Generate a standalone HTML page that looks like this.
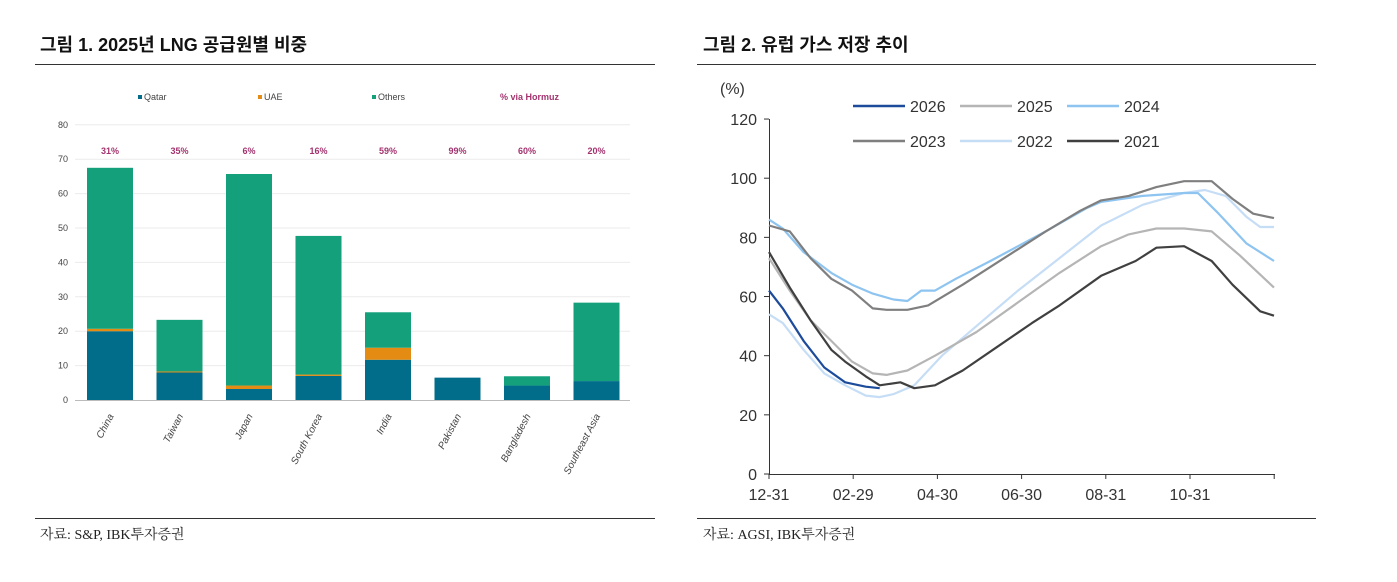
<!DOCTYPE html>
<html><head><meta charset="utf-8">
<style>
body{margin:0;background:#fff;width:1397px;height:582px;overflow:hidden}
svg{display:block}
.t{font-family:"Liberation Sans","Noto Sans CJK KR",sans-serif;font-weight:bold;font-size:18px;fill:#111}
.s{font-family:"Liberation Serif","Noto Serif CJK SC",serif;font-size:14px;fill:#222}
.lt{font-family:"Liberation Sans",sans-serif;font-size:9px;fill:#444}
.rt{font-family:"Liberation Sans",sans-serif;font-size:16px;fill:#333}
</style></head><body>
<svg id="c" width="1397" height="582" xmlns="http://www.w3.org/2000/svg">
<text class="t" x="40" y="51">그림 1. 2025년 LNG 공급원별 비중</text>
<text class="t" x="703" y="51">그림 2. 유럽 가스 저장 추이</text>
<line x1="35" y1="64.5" x2="655" y2="64.5" stroke="#333" stroke-width="1"/>
<line x1="697" y1="64.5" x2="1316" y2="64.5" stroke="#333" stroke-width="1"/>
<line x1="35" y1="518.5" x2="655" y2="518.5" stroke="#333" stroke-width="1"/>
<line x1="697" y1="518.5" x2="1316" y2="518.5" stroke="#333" stroke-width="1"/>
<text class="s" x="40" y="539">자료: S&amp;P, IBK투자증권</text>
<text class="s" x="703" y="539">자료: AGSI, IBK투자증권</text>
<g id="left"></g>
<g id="right"></g>
</svg>
<script>
var NS="http://www.w3.org/2000/svg";
function el(p,n,a,txt){var e=document.createElementNS(NS,n);for(var k in a)e.setAttribute(k,a[k]);if(txt!=null)e.textContent=txt;p.appendChild(e);return e;}
// LEFT
var L=document.getElementById('left');
function ly(v){return 400-v*3.44;}
for(var v=0;v<=80;v+=10){
 if(v>0)el(L,'line',{x1:75,x2:630,y1:ly(v),y2:ly(v),stroke:'#ebebeb','stroke-width':1});
 el(L,'text',{x:68,y:ly(v)+3,'text-anchor':'end','class':'lt'},v);
}
el(L,'line',{x1:75,x2:630,y1:400.5,y2:400.5,stroke:'#bbb','stroke-width':1});
var bars=[["China",20,0.7,46.8,"31%"],["Taiwan",8,0.3,15,"35%"],["Japan",3.2,1,61.5,"6%"],["South Korea",7,0.4,40.3,"16%"],["India",11.7,3.5,10.3,"59%"],["Pakistan",6.5,0,0,"99%"],["Bangladesh",4.2,0,2.7,"60%"],["Southeast Asia",5.5,0,22.8,"20%"]];
var cols=['#016d8a','#e38b12','#13a07a'];
bars.forEach(function(b,i){
 var cx=110+i*69.5,w=46,base=0;
 for(var j=0;j<3;j++){var h=b[j+1];if(h>0){el(L,'rect',{x:cx-w/2,y:ly(base+h),width:w,height:h*3.44,fill:cols[j]});}base+=h;}
 el(L,'text',{x:cx,y:154,'text-anchor':'middle','class':'lt',fill:'#a3336f',style:'fill:#a3336f;font-weight:bold'},b[4]);
 el(L,'text',{x:cx+4,y:416,'text-anchor':'end','class':'lt',transform:'rotate(-62 '+(cx+4)+' 416)',style:'font-style:italic;font-size:10px'},b[0]);
});
[["Qatar",138,cols[0]],["UAE",258,cols[1]],["Others",372,cols[2]]].forEach(function(l){
 el(L,'rect',{x:l[1],y:95,width:4,height:4,fill:l[2]});
 el(L,'text',{x:l[1]+6,y:100,'class':'lt'},l[0]);
});
el(L,'text',{x:500,y:100,'class':'lt',style:'fill:#a3336f;font-weight:bold'},'% via Hormuz');
// RIGHT
var R=document.getElementById('right');
function rx(d){return 769+d*505/365;}function ry(v){return 474-v*2.958;}
el(R,'line',{x1:769.5,x2:769.5,y1:119,y2:474,stroke:'#333'});
el(R,'line',{x1:769,x2:1275,y1:474.5,y2:474.5,stroke:'#333'});
for(var v=0;v<=120;v+=20){el(R,'line',{x1:764,x2:769,y1:ry(v),y2:ry(v),stroke:'#333'});el(R,'text',{x:757,y:ry(v)+6,'text-anchor':'end','class':'rt'},v);}
var xl=["12-31","02-29","04-30","06-30","08-31","10-31"];
for(var i=0;i<=6;i++){var x=769+i*84.2;el(R,'line',{x1:x,x2:x,y1:474,y2:479,stroke:'#333'});if(i<6)el(R,'text',{x:x,y:500,'text-anchor':'middle','class':'rt'},xl[i]);}
el(R,'text',{x:720,y:94,'class':'rt'},'(%)');
var S={
'2022':['#c6ddf6',[[0,54],[10,51],[25,42],[40,34],[55,30],[70,26.5],[80,26],[90,27],[105,30],[125,40],[150,50],[180,62],[210,73],[240,84],[270,91],[300,95],[315,96],[330,94],[345,87],[355,83.5],[365,83.5]]],
'2025':['#b5b5b5',[[0,73],[15,62],[30,52],[45,45],[60,38],[75,34],[85,33.5],[100,35],[120,40],[150,48],[180,58],[210,68],[240,77],[260,81],[280,83],[300,83],[320,82],[340,74],[365,63]]],
'2024':['#8ec4f0',[[0,86],[10,83],[25,75],[45,68],[60,64],[75,61],[90,59],[100,58.5],[110,62],[120,62],[135,66],[160,72],[180,77],[200,82],[230,90],[240,92],[270,94],[300,95],[310,95],[325,88],[345,78],[365,72]]],
'2023':['#7f7f7f',[[0,84],[15,82],[30,73],[45,66],[60,62],[75,56],[85,55.5],[100,55.5],[115,57],[140,64],[170,73],[200,82],[225,89],[240,92.5],[260,94],[280,97],[300,99],[320,99],[335,93],[350,88],[365,86.5]]],
'2021':['#404040',[[0,75],[15,63],[30,52],[45,42],[55,38],[70,33],[80,30],[95,31],[105,29],[120,30],[140,35],[165,43],[190,51],[210,57],[240,67],[265,72],[280,76.5],[300,77],[320,72],[335,64],[355,55],[365,53.5]]],
'2026':['#1d4b9b',[[0,62],[10,56],[25,45],[40,36],[55,31],[70,29.5],[80,29]]]};
['2022','2025','2024','2023','2021','2026'].forEach(function(k){
 var p=S[k][1].map(function(q,i){return (i?'L':'M')+rx(q[0]).toFixed(1)+' '+ry(q[1]).toFixed(1);}).join('');
 el(R,'path',{d:p,fill:'none',stroke:S[k][0],'stroke-width':2.2,'stroke-linejoin':'round'});
});
[['2026',853,106],['2025',960,106],['2024',1067,106],['2023',853,141],['2022',960,141],['2021',1067,141]].forEach(function(l){
 el(R,'line',{x1:l[1],x2:l[1]+52,y1:l[2],y2:l[2],stroke:S[l[0]][0],'stroke-width':2.5});
 el(R,'text',{x:l[1]+57,y:l[2]+6,'class':'rt'},l[0]);
});
</script>
</body></html>
